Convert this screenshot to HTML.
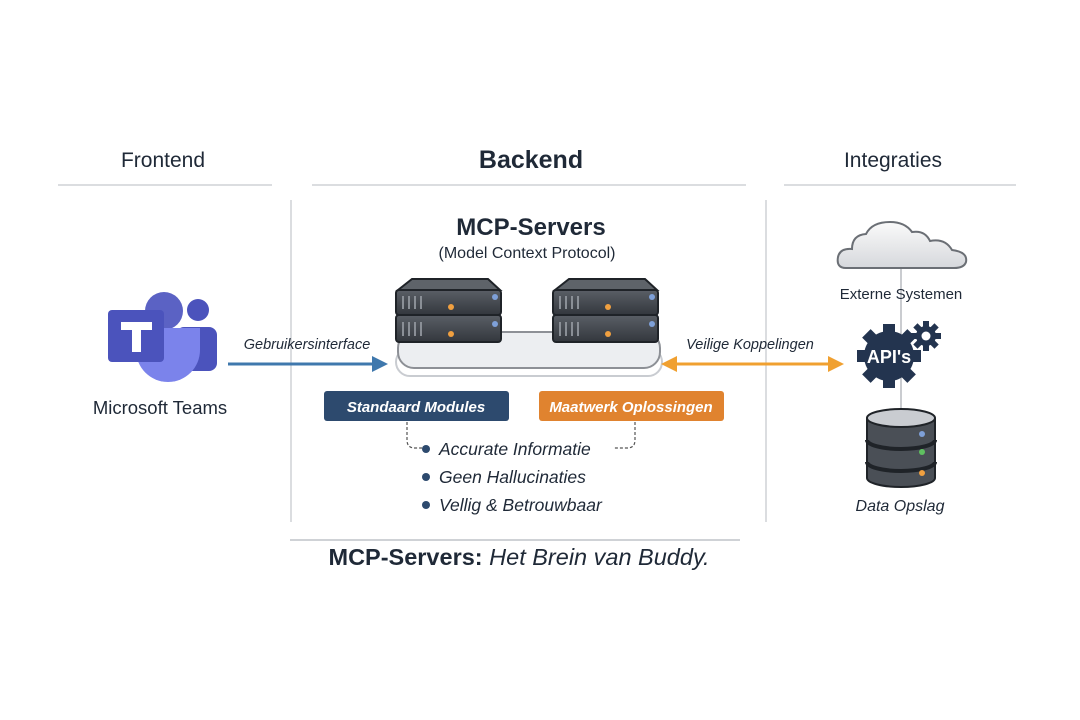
<!DOCTYPE html>
<html><head><meta charset="utf-8"><style>
html,body{margin:0;padding:0;background:#fff;}
svg{display:block}
text{font-family:"Liberation Sans","DejaVu Sans",sans-serif;fill:#1f2937}
</style></head><body>
<svg width="1080" height="720" viewBox="0 0 1080 720" xmlns="http://www.w3.org/2000/svg">
<defs>
<linearGradient id="sv" x1="0" y1="0" x2="0" y2="1"><stop offset="0" stop-color="#5a5f66"/><stop offset="1" stop-color="#33373d"/></linearGradient>
<linearGradient id="cl" x1="0" y1="0" x2="0" y2="1"><stop offset="0" stop-color="#fafafa"/><stop offset="1" stop-color="#d6d8dc"/></linearGradient>
</defs>
<rect width="1080" height="720" fill="#fff"/>
<text x="163" y="167" font-size="21" text-anchor="middle">Frontend</text>
<text x="531" y="168" font-size="25" font-weight="bold" text-anchor="middle">Backend</text>
<text x="893" y="167" font-size="21" text-anchor="middle">Integraties</text>
<g stroke="#cfd2d6" stroke-width="1.5">
<line x1="58" y1="185" x2="272" y2="185"/><line x1="312" y1="185" x2="746" y2="185"/><line x1="784" y1="185" x2="1016" y2="185"/>
<line x1="291" y1="200" x2="291" y2="522"/><line x1="766" y1="200" x2="766" y2="522"/>
<line x1="290" y1="540" x2="740" y2="540" stroke-width="2"/>
</g>
<circle cx="164" cy="311" r="19" fill="#5b62c4"/>
<circle cx="198" cy="310" r="11" fill="#4b53bc"/>
<rect x="176" y="327" width="41" height="44" rx="8" fill="#4b53bc"/>
<path d="M136 328 H200 V350 A32 32 0 0 1 136 350 Z" fill="#7b83eb"/>
<rect x="108" y="310" width="56" height="52" rx="4" fill="#4b53bc"/>
<path d="M121 322 H152 V330 H141 V352 H132 V330 H121 Z" fill="#fff"/>
<text x="160" y="414" font-size="18.5" text-anchor="middle">Microsoft Teams</text>
<text x="307" y="349" font-size="14.5" text-anchor="middle" font-style="italic">Gebruikersinterface</text>
<line x1="228" y1="364" x2="375" y2="364" stroke="#3f78ad" stroke-width="3"/>
<path d="M372 356 L388 364 L372 372 Z" fill="#3f78ad"/>
<text x="531" y="235" font-size="24" font-weight="bold" text-anchor="middle">MCP-Servers</text>
<text x="527" y="258" font-size="16" text-anchor="middle">(Model Context Protocol)</text>
<rect x="396" y="348" width="266" height="28" rx="14" fill="#fff" stroke="#c9ccd1" stroke-width="2"/>
<rect x="398" y="332" width="262" height="36" rx="16" fill="#eceef1" stroke="#8d9096" stroke-width="2"/>
<g id="srv">
<path d="M398 290 L412 279 H488 L500 290 Z" fill="#5e6369" stroke="#1f2328" stroke-width="2"/>
<rect x="396" y="290" width="105" height="25" rx="3" fill="url(#sv)" stroke="#1f2328" stroke-width="2"/>
<rect x="396" y="315" width="105" height="27" rx="3" fill="url(#sv)" stroke="#1f2328" stroke-width="2"/>
<g stroke="#8a8f96" stroke-width="2"><line x1="403" y1="296" x2="403" y2="309"/><line x1="409" y1="296" x2="409" y2="309"/><line x1="415" y1="296" x2="415" y2="309"/><line x1="421" y1="296" x2="421" y2="309"/>
<line x1="403" y1="322" x2="403" y2="336"/><line x1="409" y1="322" x2="409" y2="336"/><line x1="415" y1="322" x2="415" y2="336"/><line x1="421" y1="322" x2="421" y2="336"/></g>
<circle cx="451" cy="307" r="3" fill="#f0a040"/><circle cx="451" cy="334" r="3" fill="#f0a040"/>
<circle cx="495" cy="297" r="3" fill="#7ea0d8"/><circle cx="495" cy="324" r="3" fill="#7ea0d8"/>
</g>
<use href="#srv" x="157"/>
<text x="750" y="349" font-size="14.5" text-anchor="middle" font-style="italic">Veilige Koppelingen</text>
<line x1="672" y1="364" x2="830" y2="364" stroke="#f0a030" stroke-width="3"/>
<path d="M677 356 L661 364 L677 372 Z" fill="#f0a030"/>
<path d="M828 356 L844 364 L828 372 Z" fill="#f0a030"/>
<rect x="324" y="391" width="185" height="30" rx="3" fill="#2d4a6e"/>
<text x="416" y="412" font-size="15" font-weight="bold" font-style="italic" text-anchor="middle" style="fill:#fff">Standaard Modules</text>
<rect x="539" y="391" width="185" height="30" rx="3" fill="#e0832f"/>
<text x="631" y="412" font-size="15" font-weight="bold" font-style="italic" text-anchor="middle" style="fill:#fff">Maatwerk Oplossingen</text>
<g stroke="#555" stroke-width="1.2" stroke-dasharray="3,2" fill="none">
<path d="M407 422 V440 Q407 448 415 448 H422"/>
<path d="M635 422 V440 Q635 448 627 448 H614"/>
</g>
<g fill="#2d4a6e"><circle cx="426" cy="449" r="4"/><circle cx="426" cy="477" r="4"/><circle cx="426" cy="505" r="4"/></g>
<g font-size="17.5" font-style="italic"><text x="439" y="455">Accurate Informatie</text><text x="439" y="483">Geen Hallucinaties</text><text x="439" y="511">Vellig &amp; Betrouwbaar</text></g>
<text x="519" y="565" font-size="23.5" text-anchor="middle"><tspan font-weight="bold">MCP-Servers:</tspan> <tspan font-style="italic">Het Brein van Buddy.</tspan></text>
<line x1="901" y1="268" x2="901" y2="412" stroke="#b9bcc1" stroke-width="1.5"/>
<path d="M846 268 Q836 268 838 257 Q840 248 852 249 Q852 235 866 234 Q872 222 890 222 Q905 222 912 232 Q925 230 930 241 Q945 238 952 250 Q968 252 966 262 Q964 268 954 268 Z" fill="url(#cl)" stroke="#6b6f75" stroke-width="2"/>
<text x="901" y="299" font-size="15" text-anchor="middle">Externe Systemen</text>
<g transform="translate(926,336)" fill="#23344f">
<circle r="10"/>
<g><rect x="-3" y="-15" width="6" height="30"/><rect x="-15" y="-3" width="30" height="6"/><rect x="-3" y="-15" width="6" height="30" transform="rotate(45)"/><rect x="-3" y="-15" width="6" height="30" transform="rotate(-45)"/></g>
<circle r="4.5" fill="#fff"/>
</g>
<g transform="translate(889,356)" fill="#23344f">
<circle r="25"/>
<rect x="-6" y="-32" width="12" height="64"/><rect x="-32" y="-6" width="64" height="12"/>
<rect x="-6" y="-32" width="12" height="64" transform="rotate(45)"/><rect x="-6" y="-32" width="12" height="64" transform="rotate(-45)"/>
</g>
<text x="889" y="363" font-size="18" font-weight="bold" text-anchor="middle" style="fill:#fff">API's</text>
<g stroke="#1f2328" stroke-width="2">
<path d="M867 418 V478 A34 9 0 0 0 935 478 V418" fill="#4a4f56"/>
<path d="M867 440 A34 9 0 0 0 935 440 M867 462 A34 9 0 0 0 935 462" fill="none" stroke-width="4"/>
<ellipse cx="901" cy="418" rx="34" ry="9" fill="#c9ccd1"/>
</g>
<circle cx="922" cy="434" r="3" fill="#7ea0d8"/><circle cx="922" cy="452" r="3" fill="#5fc060"/><circle cx="922" cy="473" r="3" fill="#f0a040"/>
<text x="900" y="511" font-size="16" font-style="italic" text-anchor="middle">Data Opslag</text>
</svg>
</body></html>
